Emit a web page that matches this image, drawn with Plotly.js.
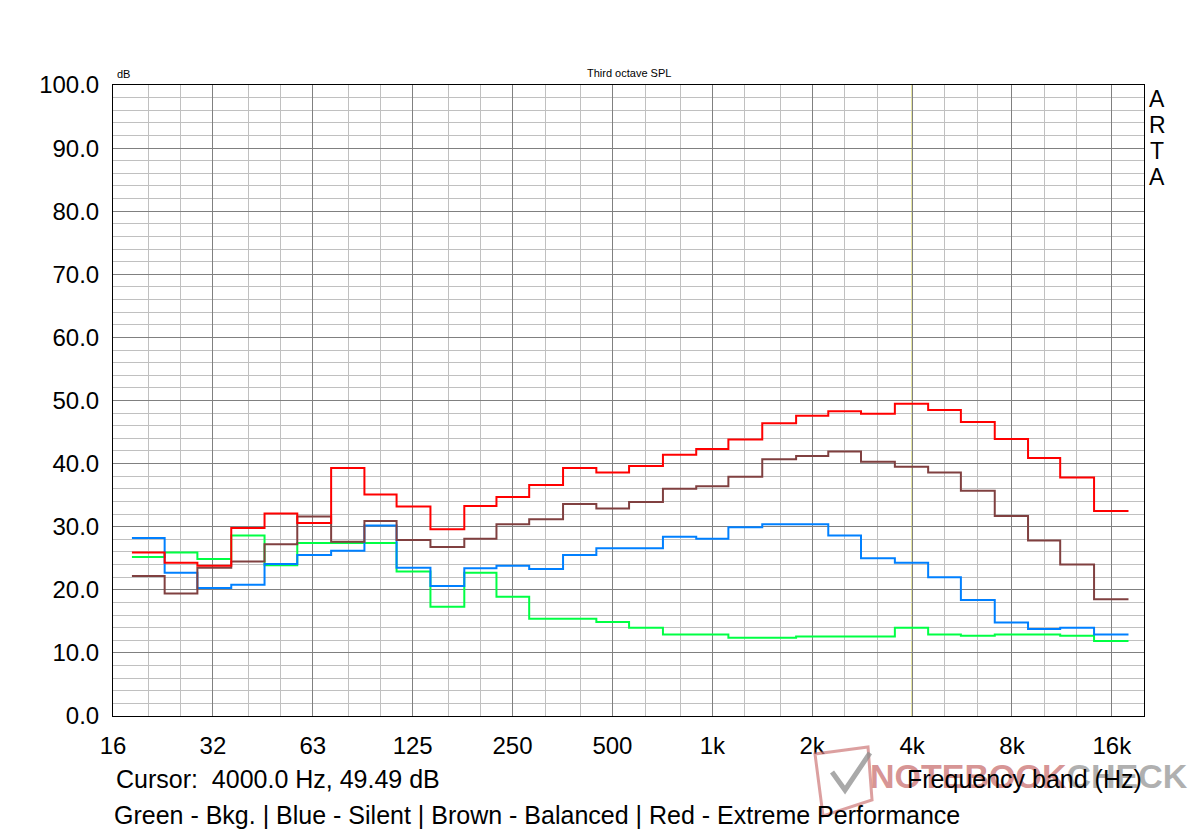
<!DOCTYPE html>
<html>
<head>
<meta charset="utf-8">
<script src="https://cdn.plot.ly/plotly-3.0.1.min.js"></script>
<style>
html,body{margin:0;padding:0;background:#fff;}
#chart{width:1200px;height:832px;}
</style>
</head>
<body>
<div id="chart"></div>
<script>
// Third-octave band centre frequencies (Hz)
const bands = [20,25,31.5,40,50,63,80,100,125,160,200,250,315,400,500,630,800,1000,1250,1600,2000,2500,3150,4000,5000,6300,8000,10000,12500,16000];

// SPL per band (dB)
const green = [25.2,25.9,24.9,28.6,23.9,27.4,27.4,27.4,22.9,17.3,22.7,18.9,15.4,15.4,14.9,14.0,12.9,12.9,12.4,12.4,12.6,12.6,12.6,14.0,12.9,12.7,12.9,12.9,12.7,11.9];
const blue  = [28.2,22.7,20.3,20.8,24.1,25.5,26.2,30.2,23.5,20.6,23.4,23.8,23.3,25.5,26.6,26.6,28.4,28.1,29.9,30.4,30.4,28.6,25.0,24.3,22.0,18.4,14.8,13.8,14.0,12.9];
const brown = [22.2,19.4,23.5,24.5,27.2,31.6,27.6,30.9,27.9,26.8,28.1,30.4,31.2,33.6,32.9,33.9,36.0,36.4,37.9,40.7,41.2,41.9,40.3,39.5,38.6,35.7,31.7,27.8,24.0,18.5];
const red   = [25.9,24.3,23.8,29.8,32.1,30.6,39.3,35.1,33.2,29.6,33.3,34.7,36.6,39.3,38.6,39.6,41.4,42.3,43.8,46.4,47.6,48.3,47.9,49.5,48.5,46.6,43.9,40.9,37.8,32.5];

// Octave tick frequencies and labels
const octaveTicks = [15.625,31.25,62.5,125,250,500,1000,2000,4000,8000,16000];
const octaveLabels = ['16','32','63','125','250','500','1k','2k','4k','8k','16k'];

const cursorFreq = 4000;
const cursorText = 'Cursor:  4000.0 Hz, 49.49 dB';

// Band edges (geometric midpoints between centres)
function bandEdges(c){
  const e = [c[0]*Math.pow(2,-1/6)];
  for(let i=0;i<c.length-1;i++) e.push(Math.sqrt(c[i]*c[i+1]));
  e.push(c[c.length-1]*Math.pow(2,1/6));
  return e;
}
const edges = bandEdges(bands);
function stepY(v){ return v.concat([v[v.length-1]]); }

const minorTicks = bands.filter(b => ![31.5,63,125,250,500,1000,2000,4000,8000,16000].includes(b)).concat([20000]);

function tr(vals,color){
  return {x:edges, y:stepY(vals), type:'scatter', mode:'lines',
    line:{shape:'hv', color:color, width:2}, hoverinfo:'skip', showlegend:false};
}

const data = [
  tr(green,'#00ff44'),
  tr(blue,'#0080ff'),
  tr(brown,'#804040'),
  tr(red,'#ff0000')
];

const FONT = 'Arial, "Liberation Sans", sans-serif';
const L=113, R=1144, T=85, B=716;
function py(Y){ return (B-Y)/(B-T); }
function px(X){ return (X-L)/(R-L); }

const ann = [];
function addAnn(text,X,Y,size,xanchor,color,extra){
  ann.push(Object.assign({text:text, xref:'paper', yref:'paper', x:px(X), y:py(Y),
    xanchor:xanchor, yanchor:'middle', showarrow:false,
    font:{family:FONT, size:size, color:color||'#000'}}, extra||{}));
}
// watermark
addAnn('<b><span style="color:rgba(205,120,120,0.8)">NOTEBOOK</span><span style="color:rgba(150,150,150,0.75)">CHECK</span></b>',
  1190,776,34,'right');
addAnn('dB',115,74,11,'left');
addAnn('Third octave SPL',628.5,73,11,'center');
addAnn('A',1157,99,23,'center');
addAnn('R',1157,125,23,'center');
addAnn('T',1157,151,23,'center');
addAnn('A',1157,177,23,'center');
addAnn(cursorText,114,779,25,'left');
addAnn('Frequency band (Hz)',1144,779,25,'right');
addAnn('Green - Bkg. | Blue - Silent | Brown - Balanced | Red - Extreme Performance',112,815,25,'left');

function ppath(pts, close){
  return pts.map((p,i)=>(i?'L':'M')+px(p[0]).toFixed(4)+','+py(p[1]).toFixed(4)).join(' ')+(close?' Z':'');
}

const layout = {
  width:1200, height:832,
  margin:{l:L, r:1200-R, t:T, b:832-B, pad:0},
  paper_bgcolor:'#fff', plot_bgcolor:'#fff',
  font:{family:FONT, color:'#000'},
  xaxis:{
    type:'log',
    range:[Math.log10(15.625), Math.log10(20000)],
    tickmode:'array', tickvals:octaveTicks, ticktext:octaveLabels,
    tickfont:{family:FONT, size:24, color:'#000'},
    showgrid:true, gridcolor:'#808080', gridwidth:1,
    minor:{tickmode:'array', tickvals:minorTicks, showgrid:true, gridcolor:'#c0c0c0', gridwidth:1, ticks:''},
    showline:true, mirror:true, linecolor:'#000', linewidth:1,
    ticks:'outside', ticklen:8, tickcolor:'rgba(0,0,0,0)',
    zeroline:false, fixedrange:true
  },
  yaxis:{
    range:[0,100], tickmode:'linear', tick0:0, dtick:10, tickformat:'.1f',
    tickfont:{family:FONT, size:24, color:'#000'},
    showgrid:true, gridcolor:'#808080', gridwidth:1,
    minor:{tickmode:'linear', tick0:0, dtick:2, showgrid:true, gridcolor:'#c0c0c0', gridwidth:1, ticks:''},
    showline:true, mirror:true, linecolor:'#000', linewidth:1,
    ticks:'outside', ticklen:8, tickcolor:'rgba(0,0,0,0)',
    zeroline:false, fixedrange:true
  },
  shapes:[
    {type:'line', xref:'x', yref:'paper', x0:cursorFreq, x1:cursorFreq, y0:0, y1:1,
      line:{color:'#c4c020', width:1}, layer:'between'},
    // watermark laptop outline + check
    {type:'path', xref:'paper', yref:'paper', path:ppath([[815,754],[868,747],[872,800],[823,816]],true),
      line:{color:'rgba(205,120,120,0.7)', width:3}, layer:'above'},
    {type:'path', xref:'paper', yref:'paper', path:ppath([[832,772],[845,790],[870,753]],false),
      line:{color:'rgba(140,140,140,0.75)', width:5}, layer:'above'}
  ],
  annotations:ann
};

Plotly.newPlot('chart', data, layout, {displayModeBar:false, staticPlot:true});
</script>
</body>
</html>
